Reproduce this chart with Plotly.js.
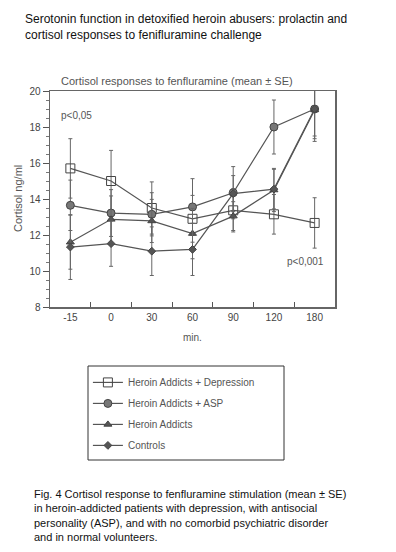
<!DOCTYPE html>
<html><head><meta charset="utf-8">
<script src="https://cdn.plot.ly/plotly-3.0.1.min.js"></script>
<style>
html,body{margin:0;padding:0;background:#fff;width:396px;height:552px;overflow:hidden;}
#chart{width:396px;height:552px;}
</style></head>
<body><div id="chart"></div>
<script>
const timepoints = ["-15", "0", "30", "60", "90", "120", "180"];
const seriesNames = ["Heroin Addicts + Depression", "Heroin Addicts + ASP", "Heroin Addicts", "Controls"];
const depressionMean = [15.7, 15.0, 13.5, 12.9, 13.37, 13.15, 12.67];
const depressionSE   = [1.65, 1.7, 1.45, 1.3, 1.2, 1.1, 1.4];
const aspMean = [13.65, 13.22, 13.15, 13.56, 14.35, 18.0, 19.0];
const aspSE   = [1.4, 1.3, 1.2, 1.57, 1.45, 1.5, 1.8];
const addictsMean = [11.6, 12.87, 12.78, 12.08, 13.05, 14.5, 18.95];
const addictsSE   = [1.5, 1.3, 1.2, 1.4, 0.8, 1.2, 1.6];
const controlsMean = [11.33, 11.52, 11.1, 11.2, 14.3, 14.55, 19.0];
const controlsSE   = [1.8, 1.26, 1.35, 1.45, 1.0, 1.1, 1.5];
const yTicks = [8, 10, 12, 14, 16, 18, 20];

const lineCol = '#555';
function tr(name, y, se, sym, size, fill, group){
  return {
    type: 'scatter', mode: 'lines+markers', name: name, x: timepoints, y: y,
    legendgroup: group,
    line: {color: lineCol, width: 1.2},
    marker: {symbol: sym, size: size, color: fill, line: {color: '#444', width: 1}},
    error_y: {type: 'data', array: se, visible: true, color: '#666', thickness: 1, width: 2}
  };
}
const data = [
  tr(seriesNames[0], depressionMean, depressionSE, 'square-open', 9, '#444', 'a'),
  tr(seriesNames[1], aspMean, aspSE, 'circle', 8, '#777', 'b'),
  tr(seriesNames[2], addictsMean, addictsSE, 'triangle-up', 7, '#555', 'c'),
  tr(seriesNames[3], controlsMean, controlsSE, 'diamond', 6, '#555', 'd')
];
const fontFam = 'Liberation Sans, Arial, sans-serif';
const layout = {
  width: 396, height: 552,
  margin: {l: 50, r: 61, t: 91, b: 245},
  paper_bgcolor: '#fff', plot_bgcolor: '#fff',
  font: {family: fontFam, color: '#444', size: 10},
  showlegend: true,
  legend: {x: 0.133, y: -0.282, xanchor: 'left', yanchor: 'top',
    borderwidth: 0, bgcolor: 'rgba(0,0,0,0)',
    font: {size: 10, color: '#555', family: fontFam},
    tracegroupgap: 2},
  shapes: [
    {type: 'rect', xref: 'paper', yref: 'paper', x0: (88-50)/285, x1: (284-50)/285,
     y0: (307-366)/216, y1: (307-460)/216, line: {color: '#333', width: 1}, fillcolor: 'rgba(0,0,0,0)'}
  ],
  xaxis: {type: 'category', range: [-0.5, 6.5], tickson: 'boundaries',
    ticks: 'inside', ticklen: 5, tickcolor: '#555', showgrid: false, zeroline: false,
    showline: true, linecolor: '#666', linewidth: 1.5, mirror: true,
    tickfont: {size: 10, color: '#444'}, fixedrange: true},
  yaxis: {range: [8, 20], tickvals: yTicks, ticks: 'outside', ticklen: 6, tickcolor: '#555',
    showgrid: false, zeroline: false, showline: true, linecolor: '#666', linewidth: 1.5, mirror: true,
    tickfont: {size: 10, color: '#444'},
    minor: {dtick: 0.5, ticks: 'outside', ticklen: 3, tickcolor: '#777', showgrid: false}},
  annotations: [
    {xref: 'paper', yref: 'paper', x: 0.445, y: 1.045, text: 'Cortisol responses to fenfluramine (mean ± SE)',
     showarrow: false, font: {size: 11, color: '#555'}, xanchor: 'center', yanchor: 'middle'},
    {xref: 'paper', yref: 'paper', x: 0.03, y: 0.885, text: 'p<0,05', showarrow: false,
     font: {size: 10, color: '#555'}, xanchor: 'left', yanchor: 'middle'},
    {xref: 'paper', yref: 'paper', x: 0.97, y: 0.21, text: 'p<0,001', showarrow: false,
     font: {size: 10, color: '#555'}, xanchor: 'right', yanchor: 'middle'},
    {xref: 'paper', yref: 'paper', x: (18-50)/285, y: 0.5, text: 'Cortisol ng/ml', textangle: -90, showarrow: false,
     font: {size: 11, color: '#555'}, xanchor: 'center', yanchor: 'middle'},
    {xref: 'paper', yref: 'paper', x: 0.5, y: -0.143, text: 'min.', showarrow: false,
     font: {size: 10, color: '#555'}, xanchor: 'center', yanchor: 'middle'},
    {xref: 'paper', yref: 'paper', x: (23-50)/285, y: (307-27)/216,
     text: 'Serotonin function in detoxified heroin abusers: prolactin and<br>cortisol responses to fenifluramine challenge',
     showarrow: false, align: 'left', xanchor: 'left', yanchor: 'middle',
     font: {size: 12, color: '#111', family: fontFam}},
    {xref: 'paper', yref: 'paper', x: (32-50)/285, y: (307-515.5)/216,
     text: 'Fig. 4 Cortisol response to fenfluramine stimulation (mean ± SE)<br>in heroin-addicted patients with depression, with antisocial<br>personality (ASP), and with no comorbid psychiatric disorder<br>and in normal volunteers.',
     showarrow: false, align: 'left', xanchor: 'left', yanchor: 'middle',
     font: {size: 11, color: '#111', family: fontFam}}
  ]
};
Plotly.newPlot('chart', data, layout, {displayModeBar: false, staticPlot: true});
</script></body></html>
